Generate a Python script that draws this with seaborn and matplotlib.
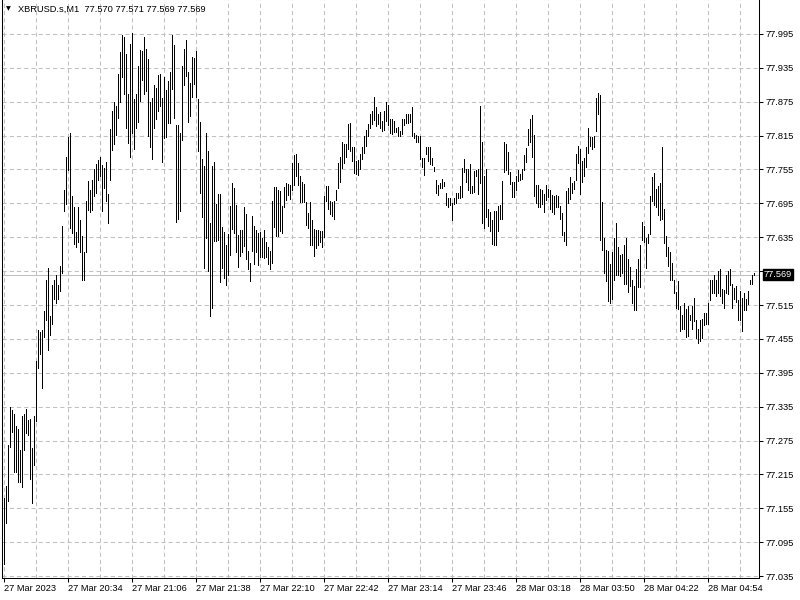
import numpy as np
import pandas as pd
import matplotlib
matplotlib.use("Agg")
import matplotlib.pyplot as plt
import seaborn as sns

# chart header
symbol = "XBRUSD.s,M1"
last_ohlc = ["77.570", "77.571", "77.569", "77.569"]
last_price = 77.569

# one-minute bars: high / low
bar_high = [
    77.173, 77.194, 77.267, 77.335, 77.329, 77.322, 77.301, 77.295, 77.258, 77.318,
    77.322, 77.330, 77.312, 77.313, 77.261, 77.319, 77.415, 77.470, 77.468, 77.470,
    77.505, 77.559, 77.581, 77.495, 77.551, 77.559, 77.568, 77.550, 77.584, 77.655,
    77.719, 77.778, 77.812, 77.820, 77.708, 77.688, 77.644, 77.688, 77.666, 77.637,
    77.608, 77.699, 77.734, 77.719, 77.736, 77.756, 77.764, 77.771, 77.777, 77.763,
    77.758, 77.769, 77.711, 77.827, 77.859, 77.874, 77.868, 77.925, 77.963, 77.993,
    77.990, 77.960, 77.889, 77.977, 77.997, 77.880, 77.889, 77.938, 77.966, 77.964,
    77.989, 77.968, 77.950, 77.874, 77.881,
    77.905, 77.899, 77.923, 77.924, 77.882, 77.918, 77.895, 77.911, 77.928, 77.993,
    77.976, 77.834, 77.834, 77.820, 77.939, 77.968, 77.984, 77.928, 77.908, 77.954,
    77.952, 77.964, 77.880, 77.839, 77.774, 77.762, 77.820, 77.788, 77.660, 77.762,
    77.769, 77.694, 77.711, 77.712, 77.653, 77.644, 77.622, 77.641, 77.691, 77.731,
    77.723, 77.692, 77.639, 77.648, 77.648, 77.689, 77.676, 77.610, 77.589, 77.672,
    77.655, 77.648, 77.642, 77.644, 77.633, 77.648, 77.626, 77.618, 77.610, 77.699,
    77.724, 77.724, 77.719, 77.717, 77.690, 77.724, 77.731, 77.730, 77.727, 77.767,
    77.780, 77.782, 77.767, 77.744,
    77.732, 77.729, 77.698, 77.678, 77.698, 77.665, 77.649, 77.647, 77.647, 77.646,
    77.646, 77.708, 77.726, 77.726, 77.699, 77.698, 77.699, 77.718, 77.767, 77.778,
    77.803, 77.800, 77.800, 77.835, 77.837, 77.794, 77.794, 77.770, 77.772, 77.782,
    77.794, 77.814, 77.825, 77.835, 77.853, 77.858, 77.884, 77.865, 77.854, 77.856,
    77.841, 77.858, 77.874, 77.870, 77.844, 77.844, 77.841, 77.828, 77.830, 77.824,
    77.844, 77.844, 77.854, 77.854, 77.854, 77.865, 77.819, 77.816, 77.814, 77.814,
    77.775, 77.775, 77.794, 77.794, 77.794, 77.775, 77.760, 77.737, 77.727, 77.731,
    77.739, 77.733, 77.714, 77.704, 77.704, 77.695,
    77.704, 77.714, 77.714, 77.725, 77.757, 77.773, 77.756, 77.756, 77.765, 77.726,
    77.753, 77.754, 77.756, 77.867, 77.804, 77.743, 77.756, 77.685, 77.680, 77.666,
    77.682, 77.682, 77.690, 77.692, 77.734, 77.803, 77.801, 77.786, 77.751, 77.733,
    77.732, 77.744, 77.754, 77.747, 77.756, 77.780, 77.793, 77.826, 77.844, 77.851,
    77.816, 77.727, 77.727, 77.720, 77.718, 77.711, 77.727, 77.721, 77.719, 77.709,
    77.708, 77.709, 77.708, 77.690, 77.678, 77.644, 77.717, 77.722, 77.741, 77.731,
    77.735, 77.782, 77.797, 77.791, 77.770, 77.776, 77.794, 77.828, 77.813, 77.813,
    77.815, 77.881, 77.890, 77.887, 77.698,
    77.634, 77.612, 77.611, 77.587, 77.609, 77.633, 77.661, 77.618, 77.603, 77.605,
    77.622, 77.634, 77.596, 77.583, 77.560, 77.549, 77.578, 77.597, 77.621, 77.662,
    77.655, 77.633, 77.640, 77.708, 77.741, 77.748, 77.720, 77.726, 77.731, 77.794,
    77.685, 77.637, 77.618, 77.608, 77.590, 77.560, 77.538, 77.557, 77.514, 77.498,
    77.519, 77.508, 77.513, 77.498, 77.514, 77.528, 77.488, 77.473, 77.488, 77.490,
    77.500, 77.500, 77.519, 77.560, 77.560, 77.569, 77.560, 77.575, 77.579, 77.543,
    77.541, 77.569, 77.575, 77.578, 77.553, 77.546, 77.549, 77.524, 77.540, 77.528,
    77.537, 77.525, 77.540, 77.560, 77.569, 77.571,
]

bar_low = [
    77.057, 77.129, 77.168, 77.263, 77.290, 77.219, 77.220, 77.202, 77.202, 77.193,
    77.258, 77.289, 77.285, 77.207, 77.165, 77.232, 77.310, 77.404, 77.428, 77.368,
    77.458, 77.488, 77.436, 77.461, 77.481, 77.525, 77.519, 77.525, 77.540, 77.572,
    77.682, 77.694, 77.754, 77.651, 77.642, 77.623, 77.617, 77.626, 77.608, 77.559,
    77.559, 77.608, 77.684, 77.679, 77.684, 77.708, 77.714, 77.737, 77.743, 77.682,
    77.722, 77.699, 77.661, 77.737, 77.790, 77.801, 77.816, 77.847, 77.874, 77.919,
    77.888, 77.829, 77.802, 77.777, 77.819, 77.792, 77.829, 77.839, 77.877, 77.913,
    77.888, 77.894, 77.815, 77.795, 77.774,
    77.828, 77.845, 77.859, 77.867, 77.769, 77.810, 77.812, 77.837, 77.837, 77.898,
    77.846, 77.662, 77.668, 77.681, 77.808, 77.904, 77.921, 77.840, 77.849, 77.883,
    77.906, 77.883, 77.788, 77.713, 77.670, 77.581, 77.634, 77.576, 77.496, 77.509,
    77.629, 77.629, 77.631, 77.555, 77.580, 77.563, 77.550, 77.568, 77.604, 77.649,
    77.643, 77.609, 77.583, 77.601, 77.609, 77.620, 77.597, 77.579, 77.558, 77.610,
    77.588, 77.609, 77.586, 77.600, 77.600, 77.599, 77.600, 77.588, 77.578, 77.589,
    77.654, 77.638, 77.638, 77.646, 77.643, 77.688, 77.701, 77.709, 77.702, 77.718,
    77.727, 77.744, 77.727, 77.698,
    77.698, 77.698, 77.656, 77.652, 77.621, 77.621, 77.602, 77.616, 77.621, 77.626,
    77.617, 77.636, 77.699, 77.685, 77.676, 77.673, 77.668, 77.701, 77.723, 77.732,
    77.757, 77.767, 77.778, 77.791, 77.788, 77.770, 77.749, 77.747, 77.746, 77.756,
    77.773, 77.784, 77.797, 77.815, 77.829, 77.835, 77.843, 77.832, 77.835, 77.828,
    77.824, 77.825, 77.841, 77.834, 77.819, 77.818, 77.821, 77.822, 77.814, 77.814,
    77.818, 77.834, 77.838, 77.837, 77.840, 77.814, 77.810, 77.804, 77.804, 77.773,
    77.760, 77.745, 77.782, 77.770, 77.764, 77.763, 77.753, 77.713, 77.710, 77.723,
    77.723, 77.725, 77.692, 77.689, 77.692, 77.666,
    77.694, 77.695, 77.704, 77.705, 77.707, 77.750, 77.733, 77.719, 77.714, 77.714,
    77.715, 77.743, 77.711, 77.731, 77.660, 77.652, 77.670, 77.655, 77.646, 77.623,
    77.621, 77.621, 77.646, 77.668, 77.668, 77.750, 77.754, 77.747, 77.729, 77.707,
    77.707, 77.719, 77.735, 77.736, 77.739, 77.754, 77.769, 77.798, 77.803, 77.778,
    77.708, 77.695, 77.689, 77.688, 77.694, 77.679, 77.701, 77.707, 77.685, 77.679,
    77.676, 77.688, 77.688, 77.667, 77.639, 77.629, 77.621, 77.695, 77.702, 77.714,
    77.721, 77.737, 77.766, 77.711, 77.732, 77.743, 77.760, 77.785, 77.797, 77.792,
    77.794, 77.824, 77.853, 77.630, 77.613,
    77.572, 77.557, 77.522, 77.519, 77.525, 77.560, 77.569, 77.569, 77.566, 77.572,
    77.553, 77.552, 77.538, 77.549, 77.518, 77.506, 77.506, 77.547, 77.547, 77.631,
    77.627, 77.581, 77.625, 77.640, 77.699, 77.692, 77.688, 77.674, 77.666, 77.667,
    77.625, 77.602, 77.584, 77.560, 77.559, 77.537, 77.510, 77.508, 77.469, 77.472,
    77.473, 77.459, 77.460, 77.488, 77.473, 77.487, 77.457, 77.447, 77.451, 77.457,
    77.479, 77.481, 77.481, 77.524, 77.537, 77.537, 77.531, 77.537, 77.531, 77.519,
    77.510, 77.537, 77.534, 77.550, 77.510, 77.525, 77.520, 77.488, 77.488, 77.469,
    77.506, 77.507, 77.516, 77.552, 77.553, 77.569,
]

# time axis labels (one every 32 bars)
time_labels = [
    "27 Mar 2023", "27 Mar 20:34", "27 Mar 21:06", "27 Mar 21:38",
    "27 Mar 22:10", "27 Mar 22:42", "27 Mar 23:14", "27 Mar 23:46",
    "28 Mar 03:18", "28 Mar 03:50", "28 Mar 04:22", "28 Mar 04:54",
]

price_ticks = [
    77.035, 77.095, 77.155, 77.215, 77.275, 77.335, 77.395, 77.455, 77.515,
    77.575, 77.635, 77.695, 77.755, 77.815, 77.875, 77.935, 77.995,
]

sns.set_theme(style="white")
plt.rcParams['font.family'] = ['Liberation Sans', 'DejaVu Sans']
plt.rcParams['lines.scale_dashes'] = False

bars = pd.DataFrame({'bar': np.arange(len(bar_high)), 'high': bar_high, 'low': bar_low})

fig = plt.figure(figsize=(8, 6), dpi=100)
ax = fig.add_axes([2 / 800, 22 / 600, 757 / 800, 578 / 600])
ax.set_facecolor('white')
ax.set_axisbelow(True)

grid_color = '#c0c0c0'
fs = 6.7

# price bars, one pixel wide
ax.vlines(bars['bar'], bars['low'], bars['high'], color='black', lw=0.5,
          antialiased=False, zorder=3)

# last price line
ax.axhline(last_price, color=grid_color, lw=0.75, zorder=1)

ax.set_xlim(-0.75, 377.75)
ax.set_ylim(77.0315, 78.0552)

# x axis
ax.set_xticks(np.arange(len(time_labels)) * 32)
ax.set_xticklabels(time_labels)
ax.set_xticks(np.arange(0, len(bar_high) + 1, 16), minor=True)
for lab in ax.get_xticklabels():
    lab.set_ha('left')
ax.tick_params(axis='x', which='major', direction='out', length=3, width=0.75,
               color='black', pad=1.5, labelsize=fs, labelcolor='black', bottom=True)
ax.tick_params(axis='x', which='minor', length=0, bottom=True)

# y axis on the right
ax.yaxis.tick_right()
ax.set_yticks(price_ticks)
ax.set_yticklabels([f"{p:.3f}" for p in price_ticks])
ax.tick_params(axis='y', direction='out', length=3, width=0.75, color='black',
               pad=2, labelsize=fs, labelcolor='black', right=True, left=False)

ax.grid(True, which='both', color=grid_color, linestyle=(0, (3, 2.2)), lw=0.75)

for side in ['left', 'right', 'bottom']:
    ax.spines[side].set_visible(True)
    ax.spines[side].set_color('black')
    ax.spines[side].set_linewidth(0.75)
ax.spines['top'].set_visible(False)

# last price box
ax.annotate(f"{last_price:.3f}", xy=(1, last_price), xycoords=('axes fraction', 'data'),
            xytext=(3.6, 0), textcoords='offset points', ha='left', va='center',
            color='white', fontsize=fs,
            bbox=dict(boxstyle='square,pad=0.12', fc='black', ec='black'),
            annotation_clip=False, zorder=5)

# header
fig.text(6 / 800, 1 - 9 / 600, "\u25bc", fontsize=4.5, family='DejaVu Sans',
         color='black', va='center', ha='left')
fig.text(18 / 800, 1 - 9 / 600, symbol + "  " + " ".join(last_ohlc), fontsize=fs,
         color='black', va='center', ha='left')

fig.savefig('out.png', dpi=100)
